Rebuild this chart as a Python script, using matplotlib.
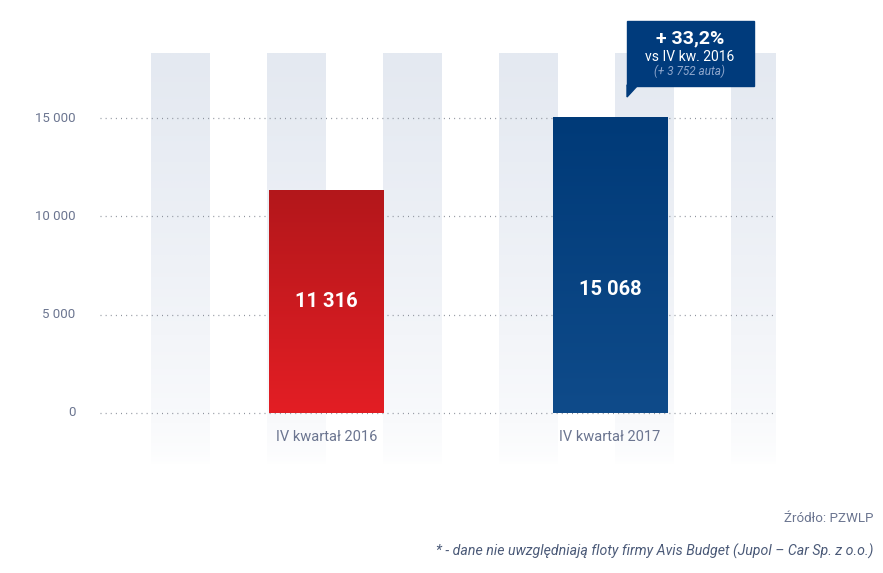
import matplotlib.pyplot as plt
import numpy as np
from matplotlib.colors import LinearSegmentedColormap
from matplotlib.patches import Polygon, Rectangle

plt.rcParams['font.family'] = ['Roboto', 'DejaVu Sans']

categories = ['IV kwartał 2016', 'IV kwartał 2017']
values = [11316, 15068]
value_labels = ['11 316', '15 068']
yticks = [0, 5000, 10000, 15000]
ytick_labels = ['0', '5 000', '10 000', '15 000']
change_pct = '+ 33,2%'
change_vs = 'vs IV kw. 2016'
change_abs = '(+ 3 752 auta)'
source = 'Źródło: PZWLP'
footnote = '* - dane nie uwzględniają floty firmy Avis Budget (Jupol – Car Sp. z o.o.)'

W, H = 883, 573
TXT = '#6b7590'


def main():
    fig = plt.figure(figsize=(W / 100, H / 100), dpi=100)
    fig.patch.set_facecolor('white')

    # axes placed so that 0 sits at y=413 px and 15 000 at y=118 px
    ax = fig.add_axes([100 / W, (H - 465) / H, 675 / W, (465 - 53) / H])
    ax.set_xlim(-0.799, 1.582)
    ax.set_ylim(-2650, 18310)
    ax.axis('off')

    # faded background stripes
    stripe = LinearSegmentedColormap.from_list('s', ['#ffffff', '#f3f5f9', '#e4e9f1'])
    grad = np.linspace(0, 1, 256).reshape(-1, 1) ** 0.6
    for c in np.linspace(-0.515, 1.53, 6):
        ax.imshow(grad, cmap=stripe, origin='lower', aspect='auto',
                  extent=(c - 0.104, c + 0.104, -2650, 18310), zorder=0)

    # dotted gridlines and tick labels
    for t, lab in zip(yticks, ytick_labels):
        ax.plot([-0.799, 1.582], [t, t], color='#8d929c', lw=0.9,
                linestyle=(0, (0.8, 3.3)), zorder=1)
        ax.text(-0.885, t, lab, ha='right', va='center', fontsize=9.5, color=TXT)

    # bars with vertical gradients
    cmaps = [
        LinearSegmentedColormap.from_list('r', ['#e31e24', '#b3171b']),
        LinearSegmentedColormap.from_list('b', ['#0f4b8a', '#003a78']),
    ]
    x = np.arange(len(values))
    bars = ax.bar(x, values, width=0.4056, color='none', zorder=2)
    vgrad = np.linspace(0, 1, 256).reshape(-1, 1)
    label_frac = [0.5, 0.415]
    for i, b in enumerate(bars):
        im = ax.imshow(vgrad, cmap=cmaps[i], origin='lower', aspect='auto',
                       extent=(b.get_x(), b.get_x() + b.get_width(), 0, b.get_height()),
                       zorder=3)
        im.set_clip_path(b)
        ax.text(x[i], values[i] * label_frac[i], value_labels[i], ha='center',
                va='center', color='white', fontsize=14.5, fontweight='bold', zorder=4)
        ax.text(x[i], -1230, categories[i], ha='center', va='center',
                fontsize=10.5, color=TXT, zorder=4)

    # overlay in pixel coordinates for callout and notes
    ov = fig.add_axes([0, 0, 1, 1], facecolor='none')
    ov.set_xlim(0, W)
    ov.set_ylim(H, 0)
    ov.axis('off')
    box = '#003b7c'
    ov.add_patch(Rectangle((627, 21), 127, 65, color=box, zorder=5))
    ov.add_patch(Polygon([(627, 85), (638, 85), (627, 97)], color=box, zorder=5))
    ov.text(690, 38, change_pct, ha='center', va='center', color='white',
            fontsize=14, fontweight='bold', zorder=6)
    ov.text(690, 57, change_vs, ha='center', va='center', color='white',
            fontsize=10, zorder=6)
    ov.text(690, 71, change_abs, ha='center', va='center', color='#8ea6cc',
            fontsize=8.5, style='italic', zorder=6)

    ov.text(873, 518, source, ha='right', va='center', fontsize=9.6, color=TXT)
    ov.text(873, 551, footnote, ha='right', va='center', fontsize=10.2,
            color='#4b5a78', style='italic')

    fig.savefig('out.png', dpi=100)


if __name__ == '__main__':
    main()
